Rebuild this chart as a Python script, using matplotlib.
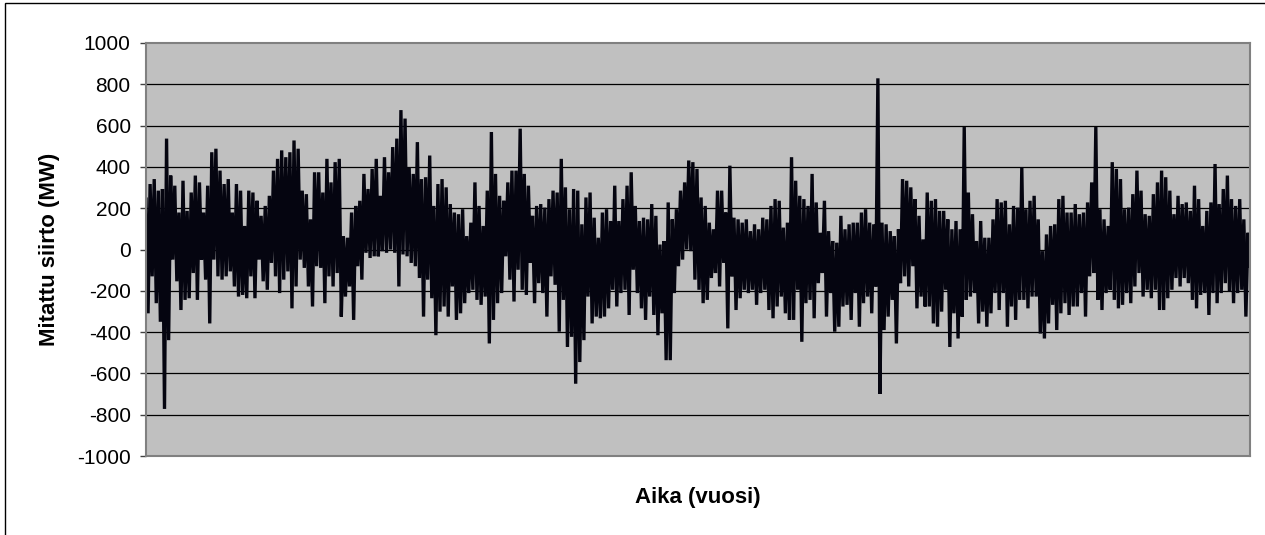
import numpy as np
import matplotlib.pyplot as plt
from matplotlib.patches import Rectangle

plt.rcParams['font.family'] = ['Liberation Sans', 'DejaVu Sans']
plt.rcParams['axes.unicode_minus'] = False

# ================= 数据（从图中读取的近似极值序列, MW） =================
seg1 = [244, -309, 317, -130, 341, -260, 285, -350, 293, -772, 537, -439, 358, -49,
        309, -154, 179, -293, 333, -244, 187, -236, 276, -114, 358, -244, 325, -49,
        179, -146, 309, -358, 471, -49, 488, -130, 382, -146, 317, -130, 341, -106,
        179, -179, 317, -228, 285, -220, 114, -236, 285, -130, 276, -236, 236, -49,
        163, -154, 211, -195, 260, -65, 382, -130, 439, -211, 480, -146, 447, -106,
        471, -285, 528, -179, 488, -49, 285, -89, 268, -179, 146, -276, 374, -81]
seg2 = [374, -89, 276, -260, 439, -130, 325, -179, 423, -114, 439, -325, 65, -228,
        57, -179, 179, -341, 211, -81, 236, -146, 366, -16, 293, -41, 390, -33,
        439, -33, 260, -8, 447, -16, 374, 0, 496, -16, 537, -179, 675, -24, 634,
        -33, 398, -65, 366, -81, 520, -138, 341, -325, 350, -146, 455, -236, 211,
        -415, 317, -301, 341, -276, 301, -325, 220, -179, 179, -341, 171, -309, 195,
        -260, 65, -211, 130, -195, 325, -244, 211, -268, 114, -228, 285, -455, 569, -341]
seg3 = [366, -260, 260, -211, 236, -33, 325, -146, 382, -252, 382, -98, 585, -195,
        366, -220, 309, -65, 163, -260, 211, -163, 220, -211, 203, -325, 244, -130,
        285, -171, 276, -398, 439, -244, 301, -472, 195, -423, 293, -650, 285, -545,
        122, -439, 252, -228, 276, -358, 154, -325, 57, -333, 179, -325, 195, -285,
        138, -195, 309, -276, 138, -211, 244, -195, 309, -317, 374, -98, 211, -211,
        138, -285, 154, -341, 146, -228, 220, -317, 163, -415, 24, -309, 41, -536]
seg4 = [228, -536, 146, -211, 195, -81, 285, -49, 325, 0, 431, -8, 423, -146, 390,
        -195, 252, -260, 211, -244, 130, -138, 98, -114, 285, -179, 285, -65, 179,
        -382, 406, -130, 154, -293, 146, -236, 130, -195, 146, -211, 89, -195, 122,
        -268, 98, -211, 154, -195, 146, -293, 211, -333, 244, -276, 236, -228, 106,
        -309, 130, -341, 447, -341, 333, -195, 260, -447, 244, -260, 211, -244, 366,
        -333, 228, -163, 81, -114, 236, -325, 89, -211, 41, -398, 33, -374, 163,
        -276, 98, -268, 122, -341, 130, -211, 130]
seg5 = [-374, 179, -260, 195, -228, 130, -309, 122, -179, 829, -699, 130, -390, 122,
        -325, 89, -244, 65, -455, 98, -163, 341, -130, 333, -179, 301, -81, 244,
        -285, 163, -228, 49, -276, 276, -276, 236, -358, 244, -374, 187, -301, 187,
        -195, 146, -472, 98, -309, 138, -431, 98, -325, 593, -244, 276, -228, 171,
        -211, 41, -358, 138, -301, 57, -374, 57, -309, 146, -211, 244, -293, 228,
        -211, 236, -374, 122, -276, 211, -341, 203, -244, 398, -244, 195, -285, 236,
        -228, 260, -228, 146, -407, -8, -431, 73, -358, 114, -268, 122, -390, 244,
        -309, 260, -260, 179]
seg6 = [-317, 179, -276, 220, -276, 171, -211, 179, -325, 228, -130, 325, -114, 593,
        -244, 195, -293, 146, -211, 114, -195, 423, -244, 390, -285, 341, -268, 195,
        -211, 203, -260, 268, -179, 382, -114, 285, -228, 171, -195, 163, -236, 268,
        -195, 325, -293, 382, -293, 350, -236, 285, -195, 171, -138, 260, -179, 220,
        -138, 228, -163, 187, -244, 309, -285, 244, -220, 114, -211, 187, -317, 228,
        -211, 414, -260, 220, -211, 293, -163, 358, -203, 244, -260, 211, -211, 244,
        -195, 146, -325, 81, -81]

siirto = np.array(seg1 + seg2 + seg3 + seg4 + seg5 + seg6)
aika = np.arange(len(siirto))

y_ticks = np.arange(-1000, 1001, 200)

# ================= 绘图 =================
fig = plt.figure(figsize=(12.65, 5.35), dpi=100)
ax = fig.add_axes([146 / 1265, 1 - 456 / 535, (1250 - 146) / 1265, (456 - 43) / 535])
ax.set_facecolor('#c0c0c0')

for v in y_ticks[1:-1]:
    ax.axhline(v, color='black', linewidth=0.9, zorder=1)

ax.plot(aika, siirto, color='#050510', linewidth=2.4, solid_joinstyle='miter', zorder=2)

ax.set_xlim(0, len(siirto) - 1)
ax.set_ylim(-1000, 1000)
ax.set_yticks(y_ticks)
ax.set_xticks([])
ax.tick_params(axis='y', direction='out', length=4, width=1, color='#404040',
               labelsize=15, pad=7)
for s in ax.spines.values():
    s.set_color('#808080')
    s.set_linewidth(1.5)

ax.set_ylabel('Mitattu siirto (MW)', fontsize=16, fontweight='bold', labelpad=12)
ax.set_xlabel('Aika (vuosi)', fontsize=16, fontweight='bold', labelpad=22)

# 外框
fig.patches.append(Rectangle((5 / 1265, -0.1), 1.2, (535 - 3) / 535 + 0.1,
                             transform=fig.transFigure, fill=False,
                             edgecolor='black', linewidth=1))

fig.savefig('out.png', dpi=100)
